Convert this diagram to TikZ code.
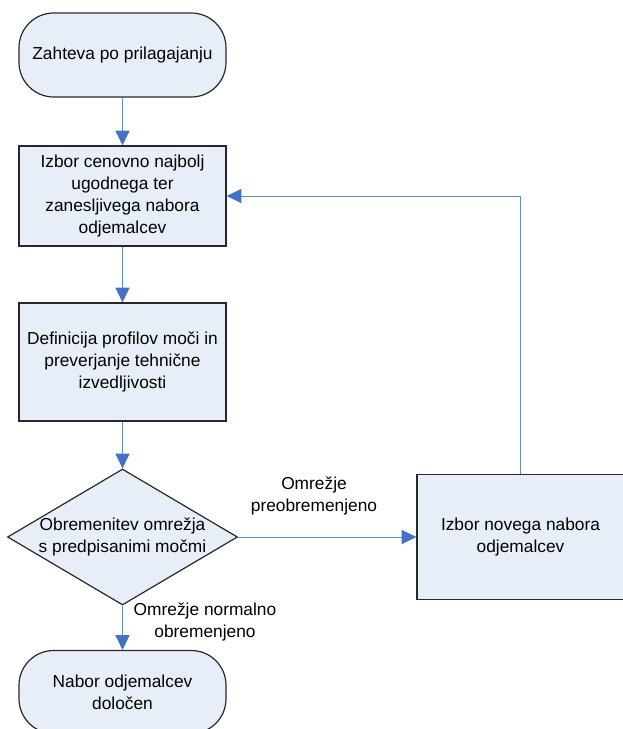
\documentclass[tikz,border=0pt]{standalone}
\usepackage{fontspec}
\setmainfont{Liberation Sans}
\usetikzlibrary{arrows.meta,shapes.geometric}
\definecolor{boxfill}{RGB}{232,238,247}
\definecolor{connc}{RGB}{95,142,206}
\definecolor{tipc}{RGB}{68,114,196}
\definecolor{edgec}{RGB}{40,40,40}
\tikzset{
  base/.style={draw=edgec, line width=0.9pt, fill=boxfill, text=black,
    font=\fontsize{13}{16.5}\selectfont, align=center, inner sep=0pt,
    minimum width=155.25pt},
  procbox/.style={base, rectangle},
  termbox/.style={base, rectangle, rounded corners=26pt},
  decbox/.style={base, diamond, minimum width=172.5pt, minimum height=102pt},
  lbl/.style={font=\fontsize{13}{16.5}\selectfont, align=center, text=black, inner sep=0pt},
  conn/.style={draw=connc, line width=0.75pt,
    -{Triangle[width=10.5pt,length=11pt,color=tipc,fill=tipc]}}
}
\begin{document}
\begin{tikzpicture}[x=0.75pt,y=-0.75pt]
\useasboundingbox (0,0) rectangle (622,729);
\node[termbox, minimum height=63pt] (start) at (122.5,55) {Zahteva po prilagajanju};
\node[procbox, minimum height=75pt] (b1) at (122.5,196) {Izbor cenovno najbolj\\ugodnega ter\\zanesljivega nabora\\odjemalcev};
\node[procbox, minimum height=88.5pt] (b2) at (122.5,362) {Definicija profilov moči in\\preverjanje tehnične\\izvedljivosti};
\node[decbox] (dec) at (122.5,537) {};
\node[lbl] (dectext) at (dec.center) {Obremenitev omrežja\\s predpisanimi močmi};
\node[procbox, minimum height=93.75pt] (rb) at (520.5,537) {Izbor novega nabora\\odjemalcev};
\node[termbox, minimum height=62.25pt] (end) at (122.5,692) {Nabor odjemalcev\\določen};

\draw[conn] (start) -- (b1);
\draw[conn] (b1) -- (b2);
\draw[conn] (b2) -- (dec);
\draw[conn] (dec.east) -- (rb.west);
\draw[conn] (dec.south) -- (end.north);
\draw[conn] (rb.north) |- (b1.east);

\node[lbl] (l1) at (314,496) {Omrežje\\preobremenjeno};
\node[lbl] (l2) at (205,621.5) {Omrežje normalno\\obremenjeno};
\end{tikzpicture}
\end{document}
